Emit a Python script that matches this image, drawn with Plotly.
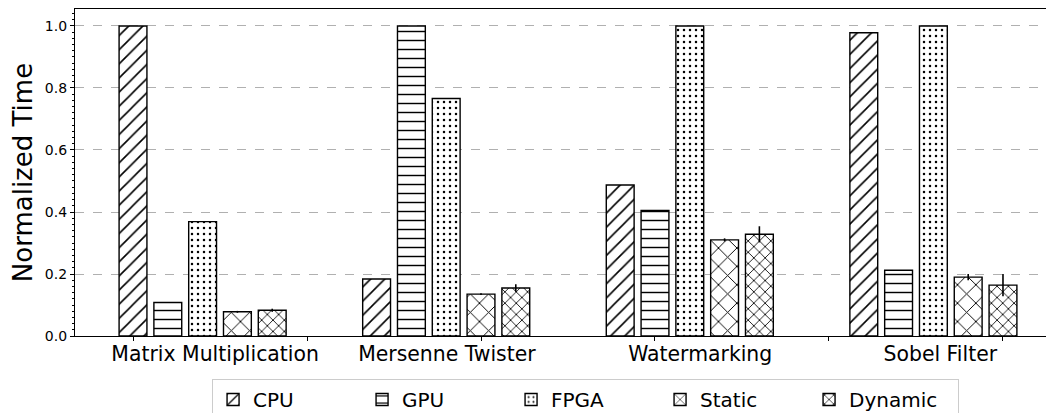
import plotly.graph_objects as go

categories = ["Matrix Multiplication", "Mersenne Twister", "Watermarking", "Sobel Filter"]
series_names = ["CPU", "GPU", "FPGA", "Static", "Dynamic"]
cpu = [1.0, 0.184, 0.487, 0.978]
gpu = [0.108, 1.0, 0.405, 0.212]
fpga = [0.369, 0.766, 1.0, 1.0]
static = [0.078, 0.135, 0.310, 0.190]
dynamic = [0.083, 0.155, 0.328, 0.164]
static_err = [0.003, 0.003, 0.005, 0.010]
dynamic_err = [0.005, 0.012, 0.026, 0.036]
y_ticks = [0.0, 0.2, 0.4, 0.6, 0.8, 1.0]
x_minor_ticks = [0, 5, 10, 15, 20, 25]
label_pos = [2.36, 9.02, 16.3, 23.2]

values = [cpu, gpu, fpga, static, dynamic]
errors = [None, None, None, static_err, dynamic_err]
patterns = [
    dict(shape="/", size=10, solidity=0.16),
    dict(shape="-", size=9, solidity=0.16),
    dict(shape=".", size=6, solidity=0.14),
    dict(shape="x", size=13, solidity=0.14),
    dict(shape="x", size=8, solidity=0.2),
]

GROUP = 7
fig = go.Figure()
for j, (name, vals, err, pat) in enumerate(zip(series_names, values, errors, patterns)):
    xs = [i * GROUP + j for i in range(len(categories))]
    p = dict(pat)
    p.update(fgcolor="black", bgcolor="white", fillmode="replace")
    kw = {}
    if err is not None:
        kw["error_y"] = dict(type="data", array=err, color="black", thickness=1.6, width=0, visible=True)
    fig.add_trace(go.Bar(
        x=xs, y=vals, name=name, width=0.8,
        marker=dict(color="white", line=dict(color="black", width=1.4), pattern=p),
        **kw,
    ))

# invisible trace to carry the category label axis
fig.add_trace(go.Scatter(x=[label_pos[0]], y=[0], xaxis="x2", mode="markers",
                         marker=dict(opacity=0), showlegend=False, hoverinfo="skip"))

font = "DejaVu Sans"
xr = [-1.667, 26.466]
fig.update_layout(
    width=1046, height=413,
    margin=dict(l=67, r=0, t=1, b=85),
    plot_bgcolor="white", paper_bgcolor="white",
    font=dict(family=font, color="black"),
    barmode="overlay",
    showlegend=True,
    legend=dict(orientation="h", x=0.14, xanchor="left", y=-0.1315, yanchor="top",
                bordercolor="#cccccc", borderwidth=1, bgcolor="white",
                entrywidth=104, entrywidthmode="pixels",
                font=dict(size=20, family=font)),
    xaxis=dict(range=xr, tickvals=x_minor_ticks, ticktext=[""] * len(x_minor_ticks),
               ticks="outside", ticklen=4, tickwidth=1, tickcolor="black",
               showline=True, linecolor="black", linewidth=1.2, mirror=True,
               showgrid=False, zeroline=False, automargin=False),
    xaxis2=dict(range=xr, overlaying="x", anchor="y", side="bottom",
                tickvals=label_pos, ticktext=categories, ticks="", showline=False,
                showgrid=False, zeroline=False, automargin=False, ticklabelstandoff=4,
                tickfont=dict(size=20.4, family=font)),
    yaxis=dict(range=[0, 1.0548], tickvals=y_ticks, ticktext=[f"{v:.1f}" for v in y_ticks],
               ticks="outside", ticklen=4, tickwidth=1, tickcolor="black",
               tickfont=dict(size=14, family=font),
               minor=dict(dtick=0.02, tick0=0, ticks="outside", ticklen=2, tickwidth=0.8,
                          tickcolor="black", showgrid=False),
               showline=True, linecolor="black", linewidth=1.2, mirror=False,
               showgrid=True, gridcolor="#b0b0b0", griddash="dash", gridwidth=1,
               zeroline=False, automargin=False,
               title=dict(text="Normalized Time", font=dict(size=26, family=font), standoff=7)),
)

fig.write_html("out.html")
